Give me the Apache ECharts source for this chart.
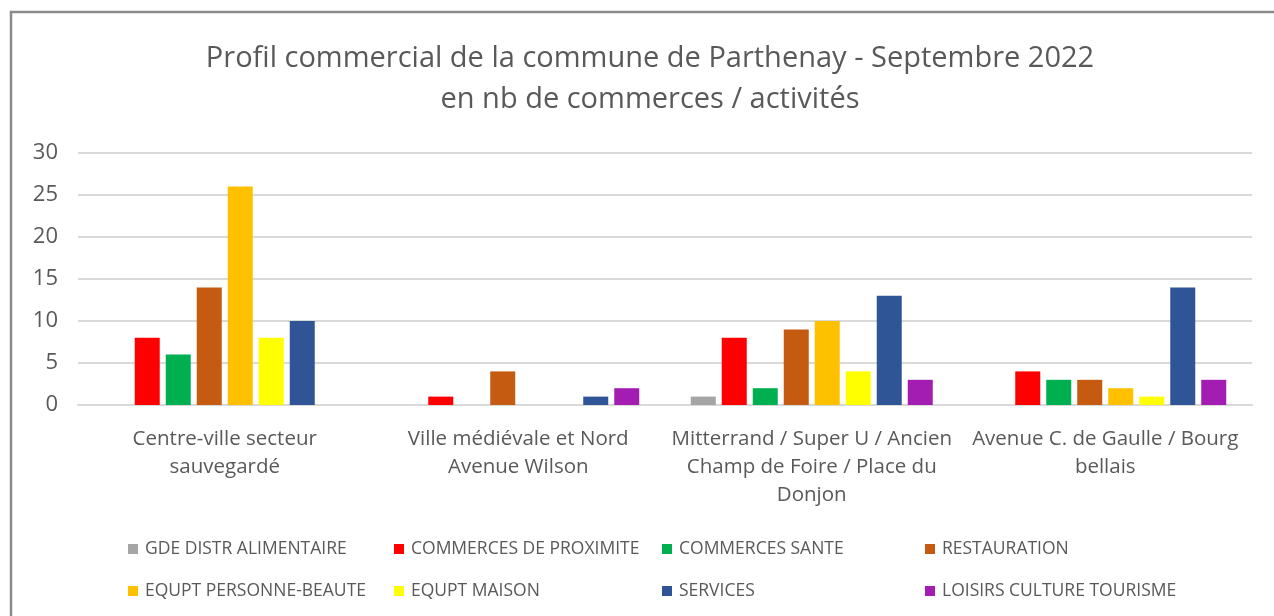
<!DOCTYPE html>
<html>
<head>
<meta charset="utf-8">
<script src="https://cdn.jsdelivr.net/npm/echarts@6/dist/echarts.min.js"></script>
<style>
  html, body { margin: 0; padding: 0; background: #fff; }
  #chart { width: 1274px; height: 616px; }
</style>
</head>
<body>
<div id="chart"></div>
<script>
// zones commerciales
const categories = [
  'Centre-ville secteur\nsauvegardé',
  'Ville médiévale et Nord\nAvenue Wilson',
  'Mitterrand / Super U / Ancien\nChamp de Foire / Place du\nDonjon',
  'Avenue C. de Gaulle / Bourg\nbellais'
]
const seriesNames = [
  'GDE DISTR ALIMENTAIRE', 'COMMERCES DE PROXIMITE', 'COMMERCES SANTE', 'RESTAURATION',
  'EQUPT PERSONNE-BEAUTE', 'EQUPT MAISON', 'SERVICES', 'LOISIRS CULTURE TOURISME'
]
const colors = ['#A5A5A5', '#FF0000', '#00B050', '#C55A11', '#FFC000', '#FFFF00', '#2F5597', '#A31DB3']

// nb de commerces par zone
const gdeDistr = [0, 0, 1, 0]
const proximite = [8, 1, 8, 4]
const sante = [6, 0, 2, 3]
const restauration = [14, 4, 9, 3]
const beaute = [26, 0, 10, 2]
const maison = [8, 0, 4, 1]
const services = [10, 1, 13, 14]
const loisirs = [0, 2, 3, 3]
const yTicks = [0, 5, 10, 15, 20, 25, 30]

const allValues = [gdeDistr, proximite, sante, restauration, beaute, maison, services, loisirs]
const textColor = '#595959'
const font = '"Open Sans", sans-serif'

const chartInstance = echarts.init(document.getElementById('chart'))

// legende en 4 colonnes de 2 lignes
const legendLeft = [123, 389, 657, 920]
const legends = legendLeft.map((left, i) => {
  return {
    orient: 'vertical',
    left: left,
    top: 533,
    itemWidth: 10,
    itemHeight: 10,
    itemGap: 20,
    icon: 'rect',
    selectedMode: false,
    data: [seriesNames[i], seriesNames[i + 4]],
    textStyle: { color: textColor, fontSize: 17.5, fontFamily: font, lineHeight: 22, padding: [0, 0, 0, 2] }
  }
})

const option = {
  animation: false,
  title: {
    text: 'Profil commercial de la commune de Parthenay - Septembre 2022\nen nb de commerces / activités',
    left: 645,
    top: 33,
    textAlign: 'center',
    textStyle: { color: textColor, fontSize: 29, fontWeight: 'normal', fontFamily: font, lineHeight: 41 }
  },
  graphic: [{
    type: 'polyline',
    shape: { points: [[11, 616], [11, 12], [1274, 12]] },
    style: { stroke: '#8a8a8a', lineWidth: 2.5, fill: null }
  }],
  legend: legends,
  grid: { left: 78, right: 22, top: 153, bottom: 211 },
  xAxis: {
    type: 'category',
    data: categories,
    axisLine: { lineStyle: { color: '#d9d9d9', width: 2 } },
    axisTick: { show: false },
    axisLabel: { color: textColor, fontSize: 20.5, fontFamily: font, lineHeight: 28, margin: 20, interval: 0 }
  },
  yAxis: {
    type: 'value',
    min: yTicks[0],
    max: yTicks[yTicks.length - 1],
    interval: 5,
    axisLine: { show: false },
    axisTick: { show: false },
    axisLabel: { color: textColor, fontSize: 22, fontFamily: font, margin: 20 },
    splitLine: { lineStyle: { color: '#d9d9d9', width: 2 } }
  },
  series: seriesNames.map((name, i) => {
    return {
      name: name,
      type: 'bar',
      data: allValues[i],
      barWidth: 25,
      barGap: '24%',
      itemStyle: { color: colors[i] }
    }
  })
}
chartInstance.setOption(option)
</script>
</body>
</html>
